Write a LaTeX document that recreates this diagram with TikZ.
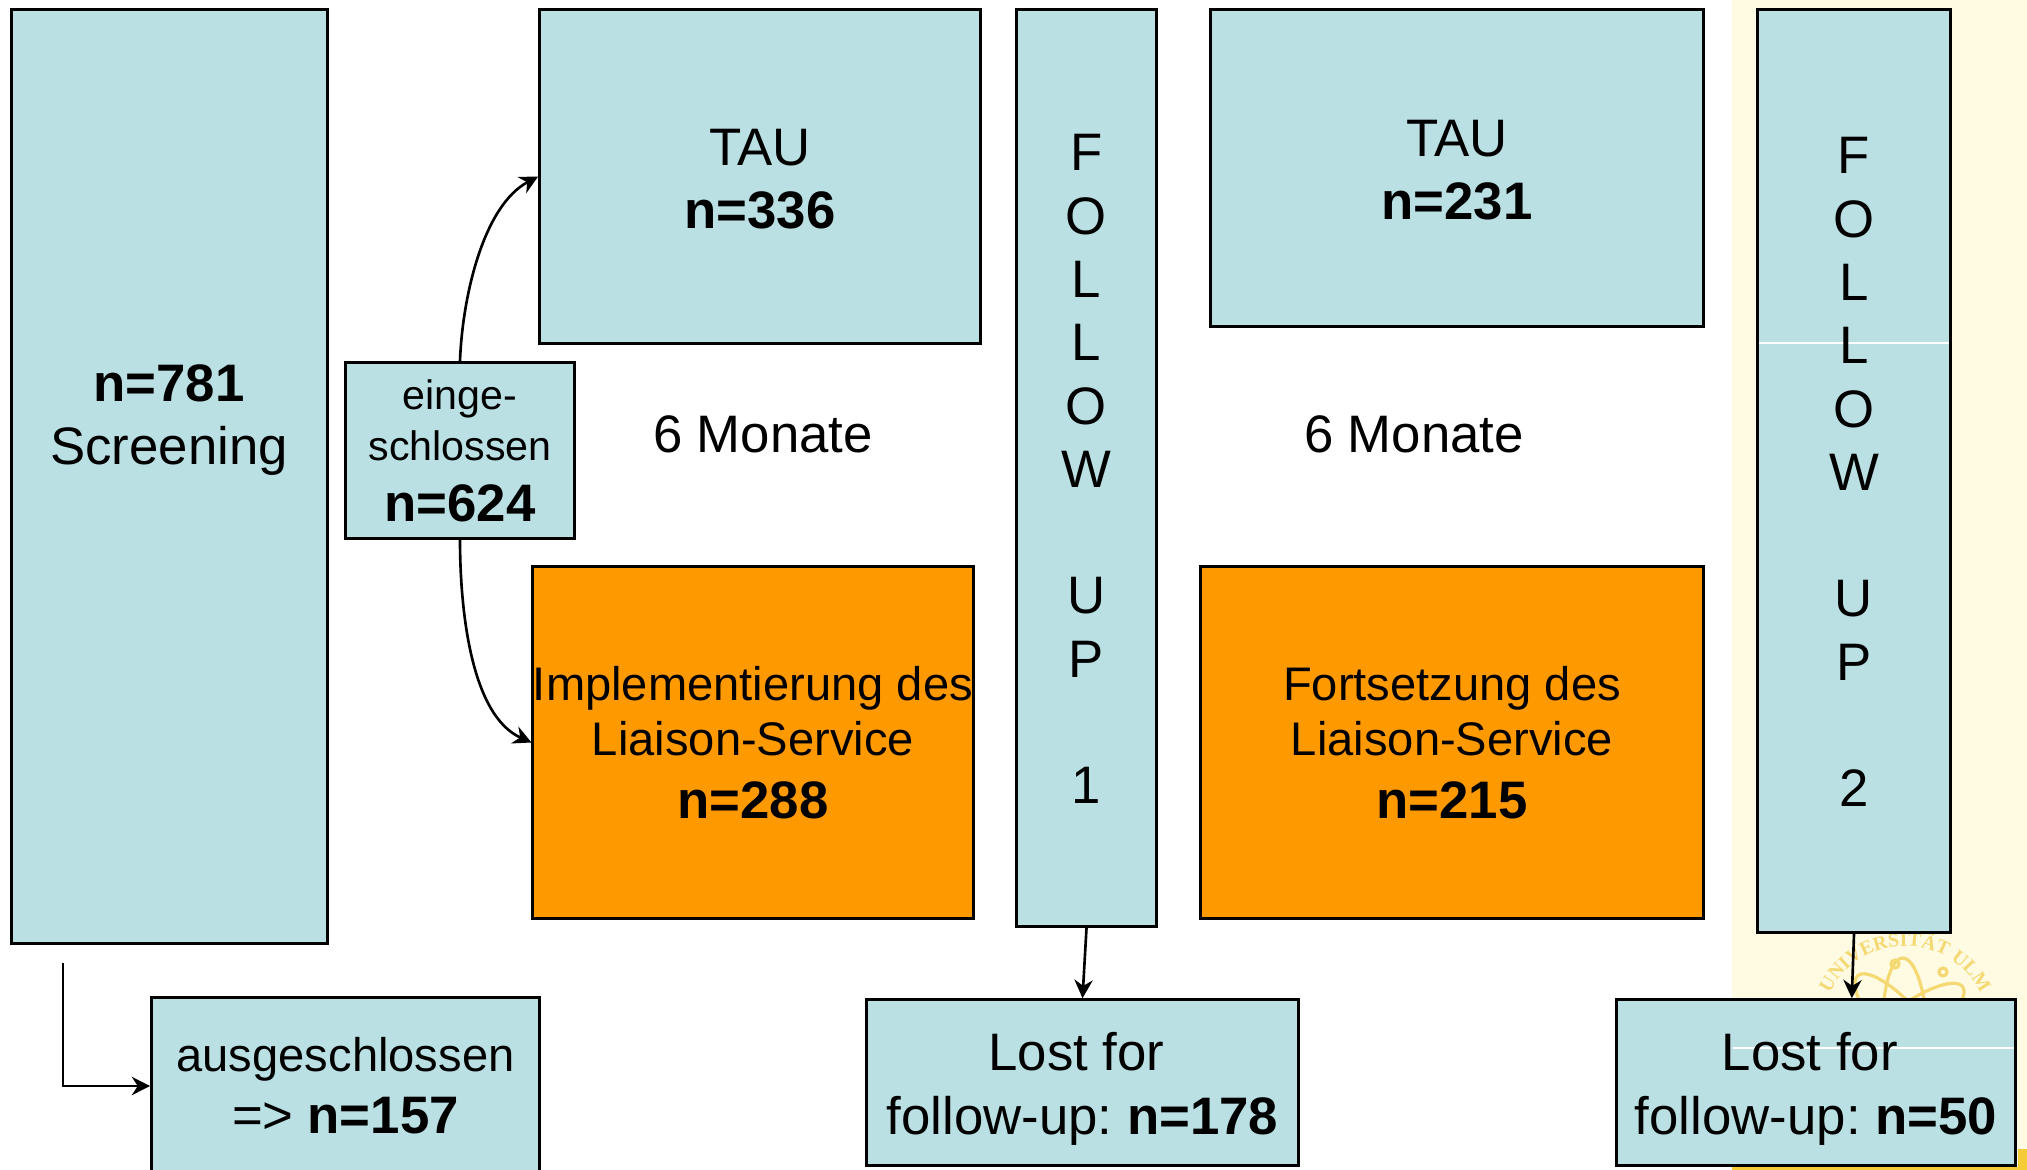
\documentclass[tikz,border=0pt]{standalone}
\usepackage{fontspec}
\setmainfont{Liberation Sans}
\newfontfamily\sealfont{Liberation Serif}
\usepackage{tikz}
\usetikzlibrary{calc}
\usetikzlibrary{arrows.meta}
\usetikzlibrary{decorations.text}

\definecolor{boxblue}{HTML}{BAE0E3}
\definecolor{boxorange}{HTML}{FF9900}
\definecolor{slidecream}{HTML}{FFFBE3}
\definecolor{slideyellow}{HTML}{F5CC38}
\definecolor{logoyellow}{HTML}{F4D973}

\newcommand{\bigsize}{\fontsize{15}{18}\selectfont}
\newcommand{\midsize}{\fontsize{13.4}{15.8}\selectfont}
\newcommand{\smallsize}{\fontsize{11.7}{14.7}\selectfont}
% pushes the lines of a box down a little
\newcommand{\lift}[1]{\rule{0pt}{#1}}

\tikzset{
  bluebox/.style={draw=black, line width=0.85pt, fill=boxblue, align=center, inner sep=0pt, font=\bigsize},
  orangebox/.style={bluebox, fill=boxorange},
  link/.style={->, line width=0.75pt}
}

\begin{document}
\frenchspacing
\begin{tikzpicture}[>={Stealth[length=5.2pt,width=5.2pt]}, x=0.01cm, y=-0.01cm]
      \useasboundingbox (0,0) rectangle (2027,1170);

      % The slide behind the chart, only the right strip shows
      \fill[slidecream] (1732,0) rectangle (2027,1170);
      \fill[slideyellow] (1732,1167) rectangle (2027,1170);
      \fill[slideyellow] (2018,1149) rectangle (2027,1170);

      % University seal, mostly covered by the boxes
      \begin{scope}[shift={(1905,1030)}]
        \path[decorate, decoration={text along path, text align=center,
            text={|\sealfont\bfseries\fontsize{5.6}{6}\selectfont\color{logoyellow}|UNIVERSITÄT ULM}}]
          (208:84) arc[start angle=208, end angle=332, radius=84];
        \foreach \a in {92,37,131}{
          \draw[logoyellow, line width=0.9pt, rotate=\a] (0,0) ellipse (72 and 22);
        }
        \draw[logoyellow, line width=0.9pt] (-10,-66) circle (4);
        \draw[logoyellow, line width=0.9pt] (38,-58) circle (4);
      \end{scope}

      % Screening column
      \node[bluebox, minimum width=3.165cm, minimum height=9.335cm] (screening) at (169.5,476.5) {};
      \node[font=\bigsize, align=center] (screeningtxt) at (169,420) {\textbf{n=781}\\Screening};
      \coordinate (excl) at (63,963);
      \node[bluebox, font=\midsize, minimum width=3.875cm, minimum height=1.765cm] (aus) at (345.5,1086)
        {ausgeschlossen\\[1.8pt]{\bigsize =\kern-0.2pt> \textbf{n=157}}};

      % Included patients and the two arms
      \node[bluebox, font=\smallsize, minimum width=2.285cm, minimum height=1.755cm] (ein) at (460,450.5)
        {einge-\\schlossen\\[2.5pt]{\bigsize\textbf{n=624}}};
      \node[bluebox, minimum width=4.405cm, minimum height=3.335cm] (tau1) at (760,176.5)
        {\lift{11.7pt}TAU\\\textbf{n=336}};
      \node[orangebox, font=\midsize, minimum width=4.385cm, minimum height=3.515cm] (impl) at (753,742.5)
        {Implementierung des\\Liaison-Service\\[2pt]{\bigsize\textbf{n=288}}};
      \node[font=\bigsize] (mon1) at (763,434) {6 Monate};

      % First follow up
      \node[bluebox, minimum width=1.395cm, minimum height=9.165cm] (fu1) at (1086.5,468)
        {\lift{11pt}F\\O\\L\\L\\O\\W\\\mbox{}\\U\\P\\\mbox{}\\1};
      \node[bluebox, minimum width=4.315cm, minimum height=1.655cm] (lost1) at (1082.5,1082.5)
        {\lift{14.5pt}Lost for\hspace*{3.5pt}\\follow-up: \textbf{n=178}};

      % Second period
      \node[bluebox, minimum width=4.925cm, minimum height=3.165cm] (tau2) at (1457,168)
        {\lift{11.7pt}TAU\\\textbf{n=231}};
      \node[orangebox, font=\midsize, minimum width=5.025cm, minimum height=3.515cm] (fort) at (1452,742.5)
        {Fortsetzung des\\Liaison-Service\\[2pt]{\bigsize\textbf{n=215}}};
      \node[font=\bigsize] (mon2) at (1414,434) {6 Monate};

      % Second follow up, both boxes keep a thin seam from the slide
      \node[bluebox, minimum width=1.925cm, minimum height=9.225cm,
        path picture={\draw[white, line width=0.3pt]
          ($(path picture bounding box.west)+(0,-128)$) -- ($(path picture bounding box.east)+(0,-128)$);}] (fu2) at (1854,471)
        {\lift{11pt}F\\O\\L\\L\\O\\W\\\mbox{}\\U\\P\\\mbox{}\\2};
      \node[bluebox, minimum width=3.985cm, minimum height=1.655cm,
        path picture={\draw[white, line width=0.3pt]
          ($(path picture bounding box.west)+(116,-34.5)$) -- ($(path picture bounding box.east)+(0,-34.5)$);}] (lost2) at (1816,1082.5)
        {\lift{14.5pt}Lost for\hspace*{3.5pt}\\follow-up: \textbf{n=50}};

      %% Connectors
      \draw[link] (excl) |- (aus.west);
      \draw[link] (ein.north) to [out=88, in=208, looseness=0.8] (tau1.west);
      \draw[link] (ein.south) to [out=-90, in=156, looseness=0.8] (impl.west);
      \draw[link] (fu1.south) -- (lost1.north);
      \draw[link] (fu2.south) -- (lost2.67.8);
    \end{tikzpicture}
\end{document}
